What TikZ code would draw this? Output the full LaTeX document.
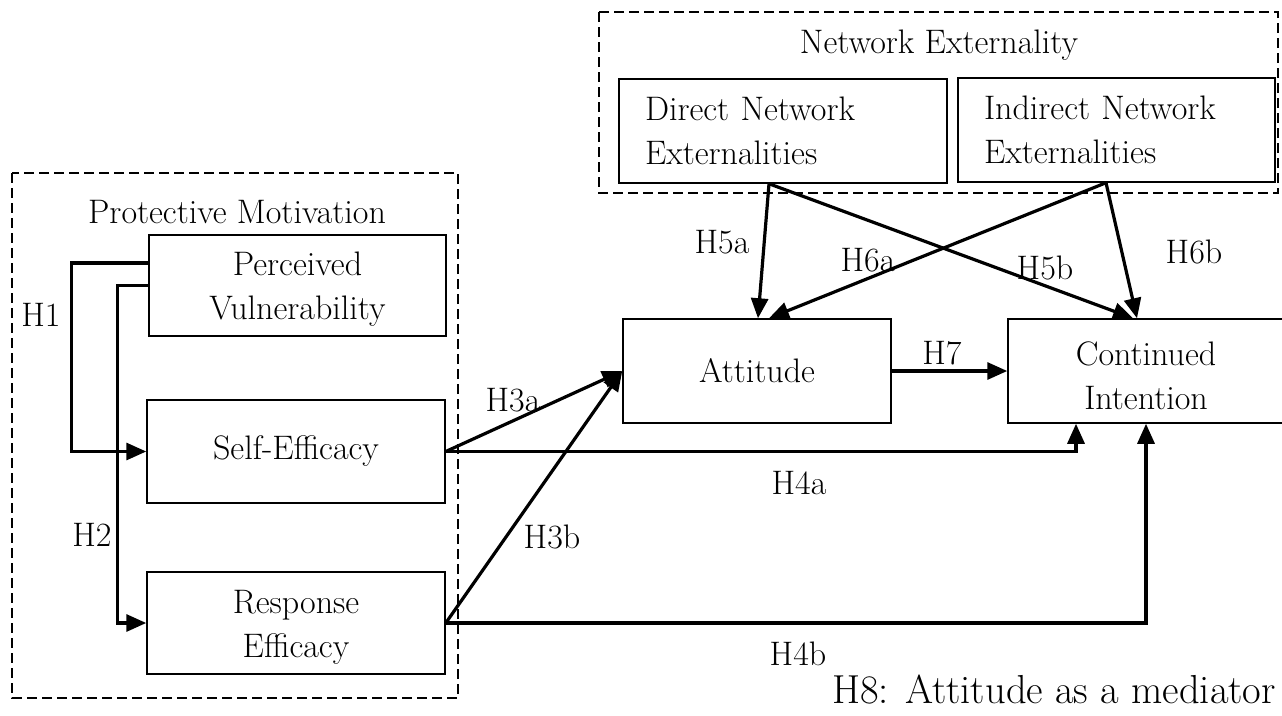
\documentclass[tikz,border=0pt]{standalone}
\usetikzlibrary{arrows.meta,calc}
\begin{document}
\begin{tikzpicture}[x=1pt,y=-1pt,
  font=\fontsize{34}{44}\selectfont,
  box/.style={draw,line width=1.5pt,minimum width=#1,inner sep=0pt},
  txt/.style={align=center,inner sep=0pt},
  grp/.style={draw,line width=1.3pt,dash pattern=on 10pt off 5pt},
  link/.style={line width=3.2pt,-{Triangle[length=20pt,width=17pt]}},
  lbl/.style={inner sep=0pt}]
\clip (0,0) rectangle (1282,715);

% groups
\draw[grp] (12,173) rectangle (458,698);
\draw[grp] (599,12) rectangle (1278,193);
\node[lbl,anchor=base] (pmtitle) at (237,223) {Protective Motivation};
\node[lbl,anchor=base] (netitle) at (939,53) {Network Externality};

% constructs
\node[box=297pt,minimum height=101pt] (PV) at (297.5,285.5) {};
\node[txt] (PVt) at ([yshift=-4pt]PV.center) {Perceived\\Vulnerability};
\node[box=298pt,minimum height=103pt] (SE) at (296,451.5) {Self-Efficacy};
\node[box=298pt,minimum height=102pt] (RE) at (296,623) {};
\node[txt] (REt) at ([yshift=-4pt]RE.center) {Response\\Efficacy};
\node[box=268pt,minimum height=104pt] (AT) at (757,371) {Attitude};
\node[box=276pt,minimum height=104pt] (CI) at (1146,371) {};
\node[txt] (CIt) at ([yshift=-5pt]CI.center) {Continued\\Intention};
\node[box=328pt,minimum height=104pt,text width=276pt,align=left] (DN) at (783,131) {Direct Network\\Externalities};
\node[box=317pt,minimum height=104pt,text width=265pt,align=left] (IN) at (1116.5,130) {Indirect Network\\Externalities};

% hypotheses
\draw[link] ([yshift=22.5pt]PV.west) -- ++(-77,0) |- (SE.west);
\draw[link] (PV.west) -- ++(-31,0) |- (RE.west);
\draw[link] (SE.east) -- (AT.west);
\draw[link] (RE.east) -- (AT.west);
\draw[link] (SE.east) -| ([xshift=-70pt]CI.south);
\draw[link] (RE.east) -| (CI.south);
\draw[link] (AT.east) -- (CI.west);
\draw[link] ([xshift=-14pt]DN.south) -- ([xshift=1pt]AT.north);
\draw[link] ([xshift=-14pt]DN.south) -- ([xshift=-13pt]CI.north);
\draw[link] ([xshift=-10.5pt]IN.south) -- ([xshift=12pt]AT.north);
\draw[link] ([xshift=-10.5pt]IN.south) -- ([xshift=-9pt]CI.north);

% labels
\node[lbl] (h1) at (41,315) {H1};
\node[lbl] (h2) at (92,535) {H2};
\node[lbl] (h3a) at (513,400) {H3a};
\node[lbl] (h3b) at (552,537) {H3b};
\node[lbl] (h4a) at (799,483) {H4a};
\node[lbl] (h4b) at (798,654) {H4b};
\node[lbl] (h5a) at (722,242) {H5a};
\node[lbl] (h6a) at (868,260) {H6a};
\node[lbl] (h5b) at (1045,268) {H5b};
\node[lbl] (h6b) at (1194,252) {H6b};
\node[lbl] (h7) at (942,353) {H7};
\node[lbl,anchor=base,font=\fontsize{40.5}{44}\selectfont] (h8) at (1054,703) {H8: Attitude as a mediator};
\end{tikzpicture}
\end{document}
